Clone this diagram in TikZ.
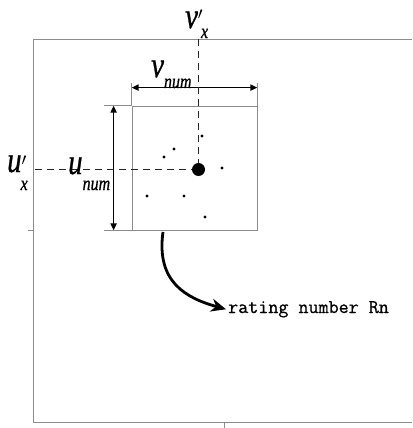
\documentclass[tikz,border=0pt]{standalone}
\usepackage{fontspec}
\setmainfont{Liberation Serif}
\newfontfamily\labelfont[FakeBold=0.8]{Liberation Serif}
\newfontfamily\ratingfont[FakeBold=0.7]{Latin Modern Mono}
\usetikzlibrary{arrows.meta}

\newcommand{\bigletter}[1]{\scalebox{0.8}[1]{\labelfont\fontsize{36}{36}\selectfont\itshape #1}}
\newcommand{\subletter}[1]{\scalebox{0.8}[1]{\labelfont\fontsize{20}{20}\selectfont\itshape #1}}
\newcommand{\primemark}{{\fontsize{18}{18}\selectfont$\prime$}}

\begin{document}
\begin{tikzpicture}[
    x=1pt, y=-1pt,
    myframe/.style={draw=gray!90, line width=0.8pt},
    mybox/.style={draw=gray!90, line width=0.8pt, minimum width=125pt, minimum height=124pt, inner sep=0pt},
    mydim/.style={{Triangle[length=7pt,width=6pt]}-{Triangle[length=7pt,width=6pt]}, line width=1.7pt},
    mydash/.style={black!85, line width=1.4pt, dash pattern=on 7pt off 5pt},
    mycurve/.style={-{Stealth[length=15pt,width=13pt]}, line width=2.8pt},
    mylabel/.style={anchor=base west, inner sep=0pt}
]
    \useasboundingbox (0,0) rectangle (412,428);

    % Outer frame
    \draw[myframe] (412,39) -- (33,39) -- (33,422) -- (412,422);
    \draw[myframe] (28,230) -- (33,230);
    \draw[myframe] (224,422) -- (224,428);

    % Block and its extension lines
    \node[mybox] (box) at (194.5,168) {};
    \draw[myframe] (box.north west) -- ++(0,-23);
    \draw[myframe] (box.north east) -- ++(0,-23);
    \draw[myframe] (box.north west) -- ++(-28,0);
    \draw[myframe] (box.south west) -- ++(-28,0);

    % Size arrows
    \draw[mydim] ([yshift=18pt]box.north west) -- ([yshift=18pt]box.north east);
    \draw[mydim] ([xshift=-18pt]box.north west) -- ([xshift=-18pt]box.south west);

    % Centre point and dashed guides
    \node[circle, fill=black, minimum size=13pt, inner sep=0pt] (centre) at (198.5,169.5) {};
    \coordinate (vtop) at (198.5,39);
    \coordinate (uleft) at (35,169.5);
    \draw[mydash] (vtop) -- (centre);
    \draw[mydash] (uleft) -- (centre);

    % Ratings
    \foreach \px/\py in {202/136, 174/149, 164/157, 222/168, 147/196, 184/196, 205/217}
        \fill (\px,\py) circle (1.7pt);

    % Labels
    \node[mylabel] (vx) at (185,28) {\bigletter{v}\rlap{\raisebox{8pt}{\primemark}}\hspace{3pt}\raisebox{-10pt}{\subletter{x}}};
    \node[mylabel] (vnum) at (151,77) {\bigletter{v}\raisebox{-11pt}{\subletter{num}}};
    \node[mylabel] (ux) at (7,172) {\bigletter{u}\rlap{\raisebox{7pt}{\primemark}}\hspace{-1pt}\raisebox{-18pt}{\subletter{x}}};
    \node[mylabel] (unum) at (68,174) {\bigletter{u}\raisebox{-16pt}{\subletter{num}}};

    % Rating number
    \node[anchor=base west, inner sep=2pt, font=\ratingfont\fontsize{19.5}{22}\selectfont] (rn) at (226,313) {rating number Rn};
    \coordinate (cstart) at (163,232);
    \draw[mycurve] (cstart) .. controls (156,282) and (186,298) .. (rn.west);
\end{tikzpicture}
\end{document}
